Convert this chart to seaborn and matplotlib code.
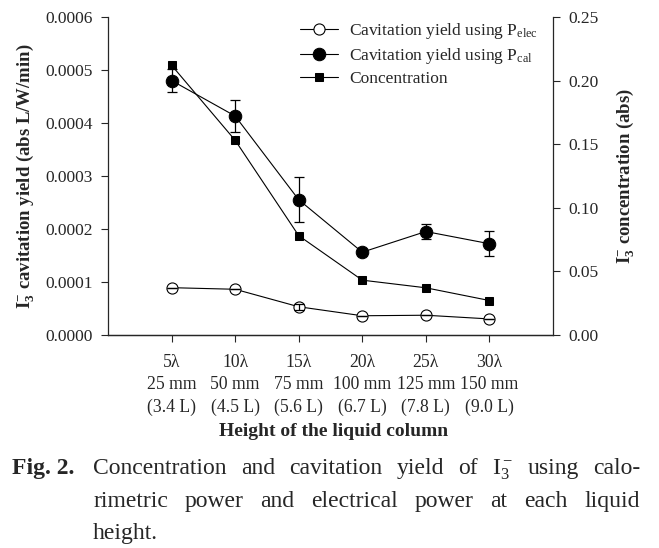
import numpy as np
import pandas as pd
import matplotlib
matplotlib.use("Agg")
import matplotlib.pyplot as plt
import seaborn as sns

# data
heights = ["5\u03bb\n25 mm\n(3.4 L)", "10\u03bb\n50 mm\n(4.5 L)", "15\u03bb\n75 mm\n(5.6 L)",
           "20\u03bb\n100 mm\n(6.7 L)", "25\u03bb\n125 mm\n(7.8 L)", "30\u03bb\n150 mm\n(9.0 L)"]
pos = [1, 2, 3, 4, 5, 6]
yield_elec = [0.000089, 0.000086, 0.000053, 0.000036, 0.000037, 0.000030]
yield_elec_err = [0.0, 0.0, 0.000006, 0.0, 0.0, 0.0]
yield_cal = [0.000480, 0.000413, 0.000255, 0.000156, 0.000195, 0.000172]
yield_cal_err = [0.000021, 0.000030, 0.000042, 0.000005, 0.000014, 0.000024]
conc = [0.212, 0.153, 0.078, 0.043, 0.037, 0.027]

sns.set_style("ticks")
plt.rcParams['font.family'] = ['Liberation Serif', 'DejaVu Serif']
plt.rcParams['mathtext.fontset'] = 'custom'
plt.rcParams['mathtext.rm'] = 'Liberation Serif'
plt.rcParams['mathtext.it'] = 'Liberation Serif:italic'
plt.rcParams['mathtext.bf'] = 'Liberation Serif:bold'
plt.rcParams['mathtext.default'] = 'regular'

df = pd.DataFrame({"pos": pos, "elec": yield_elec, "cal": yield_cal, "conc": conc})

fig = plt.figure(figsize=(6.59, 5.48), dpi=100)
ax = fig.add_axes([0.164, 0.389, 0.675, 0.58])
ax2 = ax.twinx()

sns.lineplot(data=df, x="pos", y="elec", ax=ax, color="black", lw=0.8, marker="o",
             markersize=8, markerfacecolor="white", markeredgecolor="black",
             markeredgewidth=0.8, label="Cavitation yield using P$_{elec}$", legend=False)
h1 = ax.lines[-1]
ax.errorbar(pos, yield_elec, yerr=yield_elec_err, fmt="none", ecolor="black",
            elinewidth=0.9, capsize=3.5, capthick=0.9)
sns.lineplot(data=df, x="pos", y="cal", ax=ax, color="black", lw=0.8, marker="o",
             markersize=9, markerfacecolor="black", markeredgecolor="black",
             label="Cavitation yield using P$_{cal}$", legend=False)
h2 = ax.lines[-1]
ax.errorbar(pos, yield_cal, yerr=yield_cal_err, fmt="none", ecolor="black",
            elinewidth=0.9, capsize=3.5, capthick=0.9)
sns.lineplot(data=df, x="pos", y="conc", ax=ax2, color="black", lw=0.8, marker="s",
             markersize=5.5, markerfacecolor="black", markeredgecolor="black",
             label="Concentration", legend=False)
h3 = ax2.lines[-1]

ax.set_xlim(0, 7)
ax.set_ylim(0, 0.0006)
ax2.set_ylim(0, 0.25)
ax.set_xticks(pos)
ax.set_xticklabels(heights, fontsize=12.7, linespacing=1.4)
ax.set_yticks(np.arange(0, 0.00061, 0.0001))
ax.set_yticklabels([f"{v:.4f}" for v in np.arange(0, 0.00061, 0.0001)], fontsize=12.5)
ax2.set_yticks(np.arange(0, 0.251, 0.05))
ax2.set_yticklabels([f"{v:.2f}" for v in np.arange(0, 0.251, 0.05)], fontsize=12.5)
ax.tick_params(axis="y", direction="out", length=5, width=0.8, pad=6)
ax.tick_params(axis="x", direction="out", length=5, width=0.8, pad=9)
ax2.tick_params(axis="y", direction="out", length=5, width=0.8, pad=6)

for a in (ax, ax2):
    a.spines["top"].set_visible(False)
    for s in a.spines.values():
        s.set_linewidth(0.9)
ax.spines["right"].set_visible(False)
ax2.spines["left"].set_visible(False)

ax.set_xlabel("Height of the liquid column", fontsize=14, fontweight="bold", va="center")
ax.xaxis.set_label_coords(0.506, -0.305)
ax.set_ylabel("I$_{\\mathbf{3}}^{\\mathbf{-}}$ cavitation yield (abs L/W/min)",
              fontsize=13.5, fontweight="bold")
ax.yaxis.set_label_coords(-0.161, 0.5)
ax2.set_ylabel("I$_{\\mathbf{3}}^{\\mathbf{-}}$ concentration (abs)",
               fontsize=13.5, fontweight="bold")
ax2.yaxis.set_label_coords(1.137, 0.5)

ax2.legend(handles=[h1, h2, h3], loc="upper left", bbox_to_anchor=(0.445, 0.975),
           bbox_transform=fig.transFigure, frameon=False, fontsize=12.5,
           handlelength=2.2, handletextpad=0.6, labelspacing=0.3, borderaxespad=0)

# caption, justified lines
W, H = 659, 548
renderer = fig.canvas.get_renderer()


def put_line(text, y, justify=True, x0=93, x1=640, size=17):
    words = text.split(" ")
    ts = [fig.text(0, 1 - y / H, w, fontsize=size, va="baseline") for w in words]
    widths = [t.get_window_extent(renderer).width for t in ts]
    gap = (x1 - x0 - sum(widths)) / (len(words) - 1) if justify and len(words) > 1 else 4.5
    x = x0
    for t, w in zip(ts, widths):
        t.set_x(x / W)
        x += w + gap


fig.text(12 / W, 1 - 474 / H, "Fig. 2.", fontsize=17, fontweight="bold", va="baseline")
put_line("Concentration and cavitation yield of I$_3^-$ using calo-", 474)
put_line("rimetric power and electrical power at each liquid", 507)
put_line("height.", 539, justify=False)

fig.savefig("out.png", dpi=100)
